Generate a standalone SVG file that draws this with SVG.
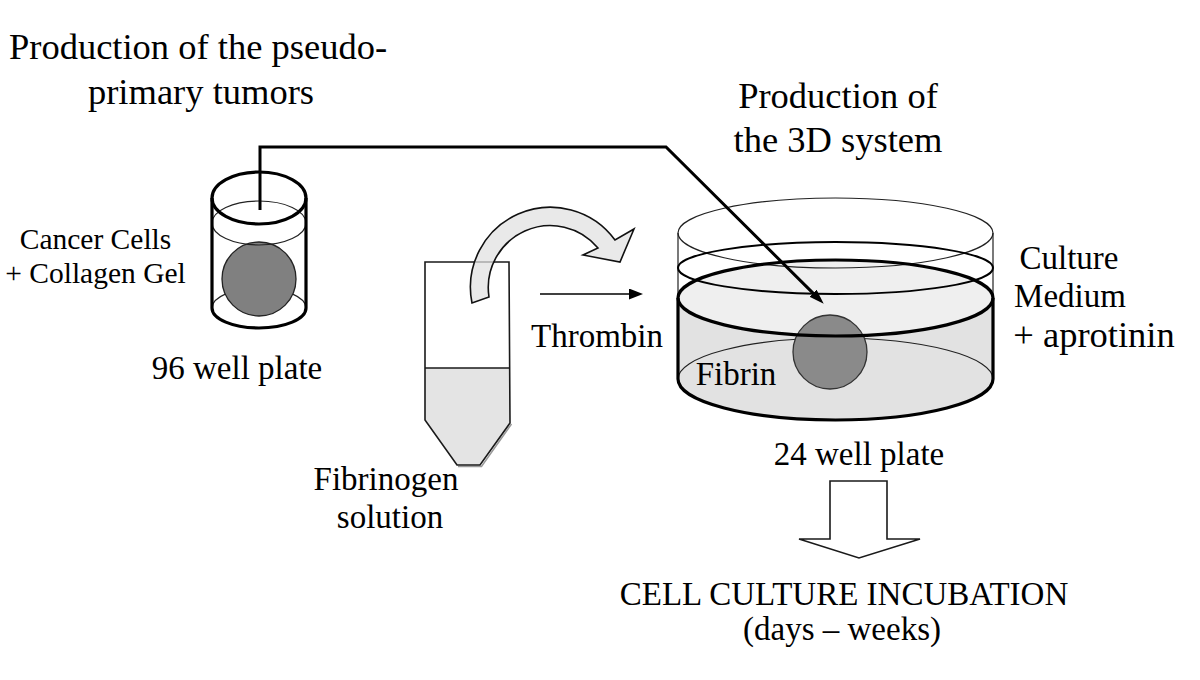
<svg xmlns="http://www.w3.org/2000/svg" width="1200" height="680" viewBox="0 0 1200 680">
<style>
text{font-family:'Liberation Serif','Tinos','DejaVu Serif','Noto Serif',serif;fill:#000}
.h{font-size:36.5px}
.m{font-size:33px}
.s{font-size:29.5px}
.thick{fill:none;stroke:#000;stroke-width:3.2}
.med{fill:none;stroke:#000;stroke-width:2}
.thin{fill:none;stroke:#222;stroke-width:1.2}
.ol{stroke:#1a1a1a;stroke-width:1.6}
</style>
<defs>
<marker id="ahBig" markerUnits="userSpaceOnUse" markerWidth="16" markerHeight="12" refX="6" refY="5" orient="auto">
<path d="M0,0 L15,5 L0,10 Z" fill="#000"/>
</marker>
<marker id="ahSmall" markerUnits="userSpaceOnUse" markerWidth="16" markerHeight="12" refX="2" refY="5.5" orient="auto">
<path d="M0,0 L14,5.5 L0,11 Z" fill="#000"/>
</marker>
</defs>
<rect width="1200" height="680" fill="#fff"/>

<g id="title-left">
<text class="h" x="198" y="59" text-anchor="middle" font-family="Liberation Serif, serif">Production of the pseudo-</text>
<text class="h" x="201" y="104" text-anchor="middle" font-family="Liberation Serif, serif">primary tumors</text>
</g>
<g id="title-right">
<text class="h" x="838" y="108" text-anchor="middle">Production of</text>
<text class="h" x="838" y="152" text-anchor="middle">the 3D system</text>
</g>

<g id="well96">
<path class="thin" d="M212,308 A47,20 0 0 1 306,308"/>
<circle cx="259" cy="279" r="37" fill="#808080" stroke="#222" stroke-width="1.3"/>
<ellipse class="thin" cx="259" cy="223" rx="47" ry="22"/>
<ellipse class="thick" cx="259" cy="198" rx="47" ry="26"/>
<path class="thick" d="M212,198 L212,308 A47,20 0 0 0 306,308 L306,198"/>
<text class="s" x="95.5" y="249" text-anchor="middle">Cancer Cells</text>
<text class="s" x="95.5" y="283" text-anchor="middle">+ Collagen Gel</text>
<text class="m" x="237" y="379" text-anchor="middle">96 well plate</text>
</g>

<g id="tube">
<path d="M425,368 L510,368 L510,423 L480,465 L457,465 L425,420 Z" fill="#e4e4e4"/>
<path d="M511.5,424 L481.5,466.5 L458,466.5" fill="none" stroke="#999" stroke-width="1.5"/>
<path class="ol" fill="none" d="M425,262 L509,262 L510,423 L480,465 L457,465 L425,420 Z"/>
<line class="ol" x1="425" y1="368" x2="510" y2="368"/>
<text class="m" x="386" y="490" text-anchor="middle">Fibrinogen</text>
<text class="m" x="390" y="528" text-anchor="middle">solution</text>
</g>

<g id="curved-arrow">
<path d="M472,303 A80,80 0 0 1 615,240 L634,229 L620,262 L583,255 L598,248 A62,62 0 0 0 489,297 Z" fill="#e0e0e0" fill-opacity="0.72" stroke="#111" stroke-width="1.6" stroke-linejoin="miter"/>
</g>

<g id="thrombin">
<text class="m" x="597" y="347" text-anchor="middle">Thrombin</text>
</g>

<g id="well24">
<path d="M678,298 L678,379 A157.5,41 0 0 0 993,379 L993,298 A157.5,38 0 0 1 678,298 Z" fill="#e2e2e2"/>
<ellipse cx="835.5" cy="298" rx="157.5" ry="38" fill="#efefef"/>
<path class="thin" d="M678,379 A157.5,41 0 0 1 993,379"/>
<circle cx="830" cy="352" r="37" fill="#8a8a8a" stroke="#333" stroke-width="1.3"/>
<path class="thin" d="M678,233 L678,298 M993,233 L993,298"/>
<ellipse class="thin" cx="835.5" cy="233" rx="157.5" ry="35"/>
<ellipse class="med" cx="835.5" cy="268" rx="157.5" ry="26"/>
<ellipse class="thick" cx="835.5" cy="298" rx="157.5" ry="38"/>
<path class="thick" d="M678,298 L678,379 A157.5,41 0 0 0 993,379 L993,298"/>
<text class="m" x="736" y="385" text-anchor="middle">Fibrin</text>
<text class="m" x="859" y="465" text-anchor="middle">24 well plate</text>
</g>

<g id="medium-label">
<text class="m" x="1069" y="269" text-anchor="middle">Culture</text>
<text class="m" x="1070" y="307" text-anchor="middle">Medium</text>
<text class="h" x="1094" y="347" text-anchor="middle">+ aprotinin</text>
</g>

<g id="incubation">
<polygon points="830,481 887,481 887,539 920,539 859,558 799,539 830,539" fill="#fff" stroke="#1a1a1a" stroke-width="1.6"/>
<text class="m" x="844" y="605" text-anchor="middle">CELL CULTURE INCUBATION</text>
<text class="m" x="842" y="640" text-anchor="middle">(days – weeks)</text>
</g>

<g id="connectors">
<path d="M260,210 L260,147 L666,147 L817.3,297.4" fill="none" stroke="#000" stroke-width="3" stroke-linejoin="miter" marker-end="url(#ahBig)"/>
<line x1="540" y1="294" x2="631" y2="294" stroke="#000" stroke-width="1.6" marker-end="url(#ahSmall)"/>
</g>
</svg>
